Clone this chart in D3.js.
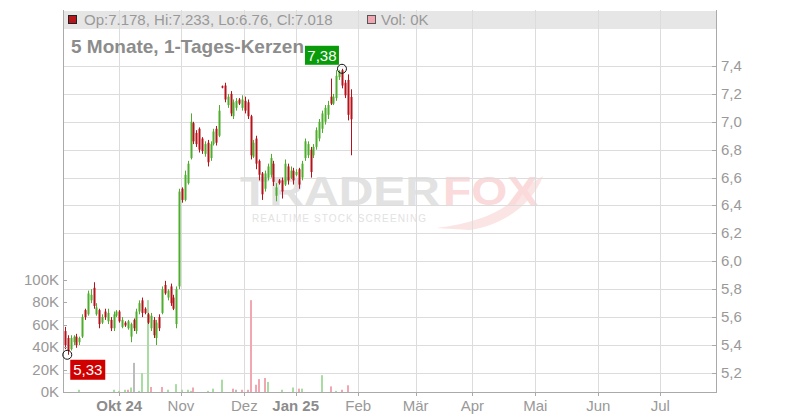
<!DOCTYPE html>
<html><head><meta charset="utf-8">
<script src="https://cdn.jsdelivr.net/npm/d3@7"></script>
<style>body{margin:0;background:#fff}svg{display:block;font-family:"Liberation Sans",Arial,sans-serif}</style>
</head><body><svg id="c" width="800" height="420"></svg>
<script>
// ---- data ----
const opens  = [5.50,5.45,5.37,5.42,5.46,5.42,5.46,5.65,5.62,5.72, 5.81,5.62,5.65,5.56,5.64,5.57,5.58,5.52,5.61,5.64,
                5.53,5.56,5.52,5.46,5.58,5.50,5.64,5.72,5.66,5.62, 5.52,5.58,5.45,5.60,5.63,5.83,5.74,5.82,5.74,5.55,
                5.82,6.52,6.44,6.56,6.74,6.99,6.92,6.95,6.88,6.77, 6.85,6.74,6.84,6.95,6.90,7.255,7.26,7.12,7.20,7.04,
                7.10,7.16,7.10,7.15,7.14,7.04,6.75,6.88,6.72,6.63, 6.52,6.60,6.62,6.70,6.47,6.58,6.58,6.55,6.68,6.60,
                6.65,6.62,6.66,6.60,6.74,6.76,6.80,6.76,6.82,6.88, 6.95,7.00,7.05,7.18,7.13,7.17,7.32,7.37,7.28,7.30,7.178];
const highs  = [5.53,5.47,5.47,5.47,5.48,5.46,5.62,5.66,5.79,5.80, 5.85,5.70,5.66,5.62,5.66,5.66,5.60,5.64,5.65,5.65,
                5.60,5.57,5.58,5.56,5.59,5.66,5.72,5.74,5.67,5.63, 5.63,5.60,5.58,5.62,5.82,5.86,5.80,5.84,5.76,5.82,
                6.52,6.53,6.65,6.72,7.06,7.00,6.94,6.96,6.89,6.86, 6.87,6.86,6.95,6.97,7.12,7.26,7.28,7.20,7.22,7.16,
                7.17,7.17,7.19,7.18,7.16,7.05,6.87,6.90,6.73,6.64, 6.65,6.70,6.77,6.72,6.56,6.59,6.60,6.73,6.70,6.68,
                6.67,6.66,6.67,6.72,6.88,6.86,6.82,6.84,6.96,7.02, 7.08,7.12,7.15,7.31,7.20,7.37,7.37,7.38,7.30,7.34,7.233];
const lows   = [5.37,5.33,5.36,5.40,5.38,5.40,5.45,5.58,5.61,5.70, 5.66,5.61,5.52,5.55,5.58,5.55,5.50,5.50,5.60,5.56,
                5.52,5.53,5.51,5.42,5.50,5.48,5.62,5.60,5.62,5.55, 5.50,5.45,5.40,5.50,5.62,5.76,5.72,5.68,5.65,5.52,
                5.80,6.42,6.43,6.55,6.73,6.84,6.82,6.78,6.77,6.75, 6.68,6.72,6.83,6.83,6.89,7.24,7.14,7.10,7.04,7.02,
                7.08,7.12,7.08,7.06,7.02,6.73,6.74,6.66,6.58,6.44, 6.50,6.58,6.60,6.54,6.43,6.55,6.45,6.54,6.55,6.59,
                6.55,6.61,6.52,6.58,6.72,6.74,6.60,6.74,6.80,6.86, 6.92,6.98,7.02,7.12,7.12,7.15,7.30,7.24,7.17,7.01,6.76];
const closes = [5.40,5.36,5.45,5.46,5.40,5.45,5.60,5.60,5.77,5.76, 5.68,5.67,5.55,5.60,5.60,5.63,5.52,5.62,5.64,5.57,
                5.58,5.54,5.57,5.55,5.52,5.64,5.70,5.63,5.63,5.56, 5.61,5.47,5.56,5.52,5.80,5.77,5.79,5.70,5.66,5.80,
                6.50,6.44,6.62,6.70,7.00,6.86,6.84,6.80,6.79,6.84, 6.71,6.84,6.93,6.85,7.08,7.245,7.16,7.18,7.06,7.14,
                7.15,7.13,7.16,7.08,7.04,6.76,6.85,6.70,6.62,6.48, 6.63,6.68,6.74,6.57,6.53,6.56,6.50,6.70,6.58,6.65,
                6.58,6.64,6.55,6.70,6.86,6.84,6.64,6.82,6.94,7.00, 7.06,7.10,7.12,7.13,7.18,7.33,7.36,7.26,7.19,7.05,7.018];
// volume in thousands (K) per candle
const volumes = [0,0,0,0,0,2,0,0,0,0, 0,0,0,0,0,0,0,2,0,1, 0,2,2,4,26,0,1,17,0,82,
                 4.5,0,0,0,4.5,0,2,0,0,7, 0,2,0,2,1,4,0,0,0,0, 1,0,3,0,0,11,0,0,0,3,
                 2,0,2,0,2,82,0,6.5,11.5,0, 12.5,9,0,0,0,0,2,0,0,0, 4,0,3,3,0,0,0,0,0,0,
                 15,0,0,5,0,1,0,2,0,6, 0];
const volUp   = [5,17,19,21,23,26,27,29,36,39,41,43,44,50,52,55,71,76,80,83,90,95];
const volDown = [22,30,34,45,59,62,64,65,67,68,70,82,93,97,99];
const volFlat = [24,60];
const priceTicks = [5.2,5.4,5.6,5.8,6.0,6.2,6.4,6.6,6.8,7.0,7.2,7.4];
const volTicks = [0,20,40,60,80,100];
const monthLabels = ["Okt 24","Nov","Dez","Jan 25","Feb","Mär","Apr","Mai","Jun","Jul"];
const monthBold   = [true,false,false,true,false,false,false,false,false,false];
const monthTickIdx = [19.0,40.6,62.8,80.8,102.7,122.8,142.7,164.7,186.8,208.5];
const legendText = "Op:7.178, Hi:7.233, Lo:6.76, Cl:7.018";
const volLegend = "Vol: 0K";
const titleText = "5 Monate, 1-Tages-Kerzen";
const maxIdx = 97, minIdx = 1; // index of high / low markers
const maxLabel = "7,38", minLabel = "5,33";

// ---- layout ----
const L = 63, R = 716, T = 10, B = 392;
const svg = d3.select("#c");
const x = d3.scaleLinear().domain([-0.7, 228.0]).range([L, R]);
const y = d3.scaleLinear().domain([5.0631, 7.8014]).range([B, T]);
const yv = d3.scaleLinear().domain([0, 341]).range([B, T]);
const grid = "#dcdcdc", axisCol = "#aaa", txt = "#999";
const up = "#4cae2c", dn = "#b5121b";

// watermark
const wm = svg.append("g");
wm.append("path").attr("d","M436,228 C470,224 500,214 515,198 C526,187 534,181 543,176 C533,203 506,224 470,230 Z").attr("fill","#fbe4e4");
wm.append("text").attr("x",240).attr("y",205).attr("font-size",40).attr("font-weight","bold")
  .attr("fill","#e2e2e2").attr("textLength",200).attr("lengthAdjust","spacingAndGlyphs").text("TRADER");
wm.append("text").attr("x",443).attr("y",205).attr("font-size",40).attr("font-weight","bold")
  .attr("fill","#fadada").attr("textLength",95).attr("lengthAdjust","spacingAndGlyphs").text("FOX");
wm.append("text").attr("x",252).attr("y",222).attr("font-size",10).attr("fill","#e2e2e2")
  .attr("textLength",174).attr("lengthAdjust","spacing").text("REALTIME STOCK SCREENING");

// legend bar
svg.append("rect").attr("x",L).attr("y",11).attr("width",R-L).attr("height",18).attr("fill","#e6e6e6");

// grid
svg.append("g").selectAll("line").data(priceTicks).join("line")
  .attr("x1",L).attr("x2",R).attr("y1",d=>Math.round(y(d))+0.5).attr("y2",d=>Math.round(y(d))+0.5)
  .attr("stroke",grid);
svg.append("g").selectAll("line").data(monthTickIdx).join("line")
  .attr("x1",d=>Math.round(x(d))+0.5).attr("x2",d=>Math.round(x(d))+0.5).attr("y1",T).attr("y2",B)
  .attr("stroke",grid);

// volume bars
const vdir = i => volUp.includes(i) ? "#a8dca2" : volDown.includes(i) ? "#f1a7b1" : volFlat.includes(i) ? "#bcbcbc" : "#ccc";
svg.append("g").selectAll("rect").data(volumes.map((v,i)=>({v,i})).filter(d=>d.v>0)).join("rect")
  .attr("x",d=>Math.round(x(d.i))-1).attr("width",2)
  .attr("y",d=>yv(d.v)).attr("height",d=>B-yv(d.v)).attr("fill",d=>vdir(d.i));

// candles
const candles = opens.map((o,i)=>({i,o,h:highs[i],l:lows[i],c:closes[i]}));
const cg = svg.append("g");
cg.selectAll("line").data(candles).join("line")
  .attr("x1",d=>Math.round(x(d.i))+0.5).attr("x2",d=>Math.round(x(d.i))+0.5)
  .attr("y1",d=>y(d.h)).attr("y2",d=>y(d.l))
  .attr("stroke",d=>d.c>=d.o?up:dn).attr("stroke-width",1);
cg.selectAll("rect").data(candles).join("rect")
  .attr("x",d=>Math.round(x(d.i))-0.5).attr("width",2)
  .attr("y",d=>y(Math.max(d.o,d.c))).attr("height",d=>Math.max(1,Math.abs(y(d.o)-y(d.c))))
  .attr("fill",d=>d.c>=d.o?up:dn);

// axes lines
svg.append("line").attr("x1",R+0.5).attr("x2",R+0.5).attr("y1",T).attr("y2",B).attr("stroke",axisCol);
svg.append("line").attr("x1",L+0.5).attr("x2",L+0.5).attr("y1",T).attr("y2",B).attr("stroke",axisCol);
svg.append("line").attr("x1",L).attr("x2",R+1).attr("y1",B+0.5).attr("y2",B+0.5).attr("stroke",axisCol);

// right price axis
const ra = svg.append("g");
ra.selectAll("line").data(priceTicks).join("line")
  .attr("x1",R-4).attr("x2",R).attr("y1",d=>Math.round(y(d))+0.5).attr("y2",d=>Math.round(y(d))+0.5).attr("stroke",axisCol);
ra.selectAll("text").data(priceTicks).join("text")
  .attr("x",R+5).attr("y",d=>y(d)+5).attr("font-size",15).attr("fill",txt)
  .text(d=>d3.format(".1f")(d).replace(".",","));

// left volume axis
const la = svg.append("g");
la.selectAll("line").data(volTicks).join("line")
  .attr("x1",L).attr("x2",L+4).attr("y1",d=>Math.round(yv(d))+0.5).attr("y2",d=>Math.round(yv(d))+0.5).attr("stroke",axisCol);
la.selectAll("text").data(volTicks).join("text")
  .attr("x",L-4).attr("y",d=>yv(d)+5).attr("text-anchor","end").attr("font-size",15).attr("fill",txt)
  .text(d=>d+"K");

// bottom month axis
const ba = svg.append("g");
ba.selectAll("line").data(monthTickIdx).join("line")
  .attr("x1",d=>Math.round(x(d))+0.5).attr("x2",d=>Math.round(x(d))+0.5).attr("y1",B).attr("y2",B+4).attr("stroke",axisCol);
ba.selectAll("text").data(monthLabels).join("text")
  .attr("x",(d,i)=>x(monthTickIdx[i])).attr("y",411).attr("text-anchor","middle").attr("font-size",15)
  .attr("font-weight",(d,i)=>monthBold[i]?"bold":"normal").attr("fill",(d,i)=>monthBold[i]?"#8c8c8c":txt)
  .text(d=>d);

// legend
svg.append("rect").attr("x",68.5).attr("y",15.5).attr("width",8).attr("height",8).attr("fill","#b5171c").attr("stroke","#222");
svg.append("text").attr("x",84).attr("y",25).attr("font-size",15).attr("fill",txt).text(legendText);
svg.append("rect").attr("x",367.5).attr("y",15.5).attr("width",8).attr("height",8).attr("fill","#f1a7b1").attr("stroke","#555");
svg.append("text").attr("x",381).attr("y",25).attr("font-size",15).attr("fill",txt).text(volLegend);

// title
svg.append("text").attr("x",71).attr("y",53).attr("font-size",19).attr("font-weight","bold").attr("fill","#8c8c8c").text(titleText);

// max / min markers
const mx = x(maxIdx), my = y(highs[maxIdx]);
svg.append("rect").attr("x",mx-37).attr("y",my-23).attr("width",34).attr("height",19).attr("fill","#0a9b0a");
svg.append("text").attr("x",mx-20).attr("y",my-8).attr("text-anchor","middle").attr("font-size",15).attr("fill","#fff").text(maxLabel);
svg.append("circle").attr("cx",mx).attr("cy",my).attr("r",4.5).attr("fill","none").attr("stroke","#111");
const nx = x(minIdx)-0.6, ny = y(lows[minIdx]);
svg.append("rect").attr("x",nx+3).attr("y",ny+5).attr("width",35).attr("height",20).attr("fill","#d10000");
svg.append("text").attr("x",nx+20.5).attr("y",ny+20.5).attr("text-anchor","middle").attr("font-size",15).attr("fill","#fff").text(minLabel);
svg.append("circle").attr("cx",nx).attr("cy",ny).attr("r",4.5).attr("fill","none").attr("stroke","#111");
</script></body></html>
